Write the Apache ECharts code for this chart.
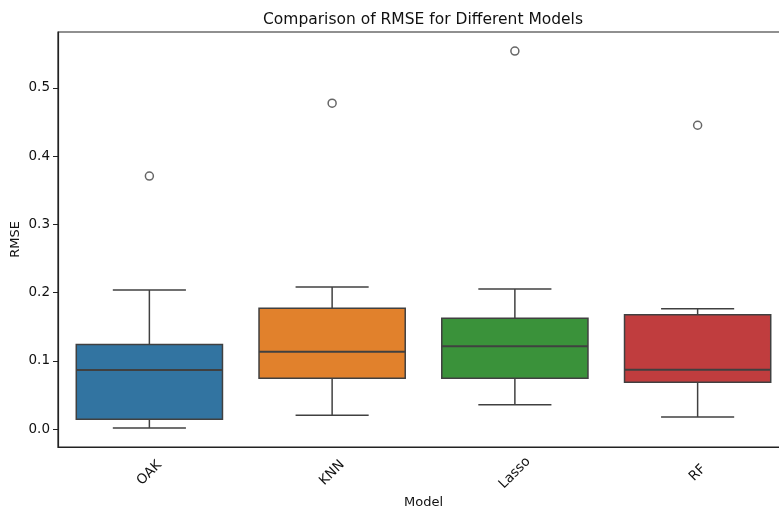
<!DOCTYPE html>
<html>
<head>
    <meta charset="utf-8" />
    <title>RMSE boxplot</title>
    <style>
        html, body { margin: 0; padding: 0; background: #fff; overflow: hidden; }
        /* the reference cuts the axes off on the right, so the chart is a bit wider than the window */
        #main { width: 789px; height: 506px; }
    </style>
    <script src="https://cdn.jsdelivr.net/npm/echarts@6/dist/echarts.min.js"></script>
</head>
<body>
    <div id="main"></div>
    <script type="text/javascript">
        // data
        var categories = ['OAK', 'KNN', 'Lasso', 'RF'];
        var whiskerLow = [0.002, 0.0205, 0.036, 0.018];
        var q1 = [0.0146, 0.0747, 0.0747, 0.0688];
        var median = [0.0868, 0.1136, 0.1215, 0.0873];
        var q3 = [0.124, 0.1771, 0.1625, 0.1678];
        var whiskerHigh = [0.204, 0.2083, 0.2054, 0.1766];
        var outliers = [[0, 0.371], [1, 0.4777], [2, 0.554], [3, 0.4454]];
        var yTicks = [0, 0.1, 0.2, 0.3, 0.4, 0.5];
        var boxColors = ['#3274a1', '#e1812c', '#3a923a', '#c03d3e'];

        var lineColor = '#404040';
        var font = 'DejaVu Sans';

        var boxData = categories.map(function (c, i) {
            return [i, whiskerLow[i], q1[i], median[i], q3[i], whiskerHigh[i]];
        });

        function renderBox(params, api) {
            var i = api.value(0);
            var band = api.size([1, 0])[0];
            var half = band * 0.4;
            var cap = band * 0.2;
            var x = api.coord([i, 0])[0];
            var yLo = api.coord([i, api.value(1)])[1];
            var yQ1 = api.coord([i, api.value(2)])[1];
            var yMed = api.coord([i, api.value(3)])[1];
            var yQ3 = api.coord([i, api.value(4)])[1];
            var yHi = api.coord([i, api.value(5)])[1];
            var ln = { stroke: lineColor, lineWidth: 1.5 };
            return {
                type: 'group',
                children: [
                    { type: 'line', shape: { x1: x, y1: yQ1, x2: x, y2: yLo }, style: ln },
                    { type: 'line', shape: { x1: x, y1: yQ3, x2: x, y2: yHi }, style: ln },
                    { type: 'line', shape: { x1: x - cap, y1: yLo, x2: x + cap, y2: yLo }, style: ln },
                    { type: 'line', shape: { x1: x - cap, y1: yHi, x2: x + cap, y2: yHi }, style: ln },
                    {
                        type: 'rect',
                        shape: { x: x - half, y: yQ3, width: half * 2, height: yQ1 - yQ3 },
                        style: { fill: boxColors[i], stroke: lineColor, lineWidth: 1.5 }
                    },
                    { type: 'line', shape: { x1: x - half, y1: yMed, x2: x + half, y2: yMed }, style: { stroke: lineColor, lineWidth: 2 } }
                ]
            };
        }

        var myChart = echarts.init(document.getElementById('main'));
        var option = {
            animation: false,
            textStyle: { fontFamily: font },
            title: {
                text: 'Comparison of RMSE for Different Models',
                left: 418,
                top: 7,
                textAlign: 'center',
                textStyle: { fontFamily: font, fontSize: 15.5, fontWeight: 'normal', color: '#111' }
            },
            grid: {
                left: 58, top: 32, bottom: 59, right: 0,
                outerBoundsMode: 'none',
                containLabel: false,
                show: true, borderColor: '#222', borderWidth: 1.2
            },
            xAxis: {
                type: 'category',
                data: categories,
                name: 'Model',
                nameLocation: 'middle',
                nameGap: 49,
                nameMoveOverlap: false,
                nameTextStyle: { fontFamily: font, fontSize: 13, color: '#111' },
                axisLine: { onZero: false, lineStyle: { color: '#222', width: 1.2 } },
                axisTick: { alignWithLabel: true, length: 5, lineStyle: { color: '#222' } },
                axisLabel: {
                    rotate: 45, align: 'center', verticalAlign: 'middle', margin: 26,
                    fontFamily: font, fontSize: 13.5, color: '#111'
                },
                splitLine: { show: false }
            },
            yAxis: {
                type: 'value',
                min: -0.026,
                max: 0.582,
                name: 'RMSE',
                nameLocation: 'middle',
                nameGap: 36,
                nameMoveOverlap: false,
                nameTextStyle: { fontFamily: font, fontSize: 13, color: '#111' },
                axisLine: { show: true, lineStyle: { color: '#222', width: 1.2 } },
                axisTick: { show: true, length: 5, customValues: yTicks, lineStyle: { color: '#222' } },
                axisLabel: {
                    customValues: yTicks, margin: 8,
                    fontFamily: font, fontSize: 13.5, color: '#111',
                    formatter: function (v) { return v.toFixed(1); }
                },
                splitLine: { show: false }
            },
            series: [
                {
                    type: 'custom',
                    renderItem: renderBox,
                    encode: { x: 0, y: [1, 2, 3, 4, 5] },
                    data: boxData,
                    z: 2
                },
                {
                    type: 'scatter',
                    data: outliers,
                    symbol: 'circle',
                    symbolSize: 8,
                    itemStyle: { color: '#fff', borderColor: lineColor, borderWidth: 1.5 },
                    z: 3
                }
            ]
        };
        myChart.setOption(option);
    </script>
</body>
</html>
